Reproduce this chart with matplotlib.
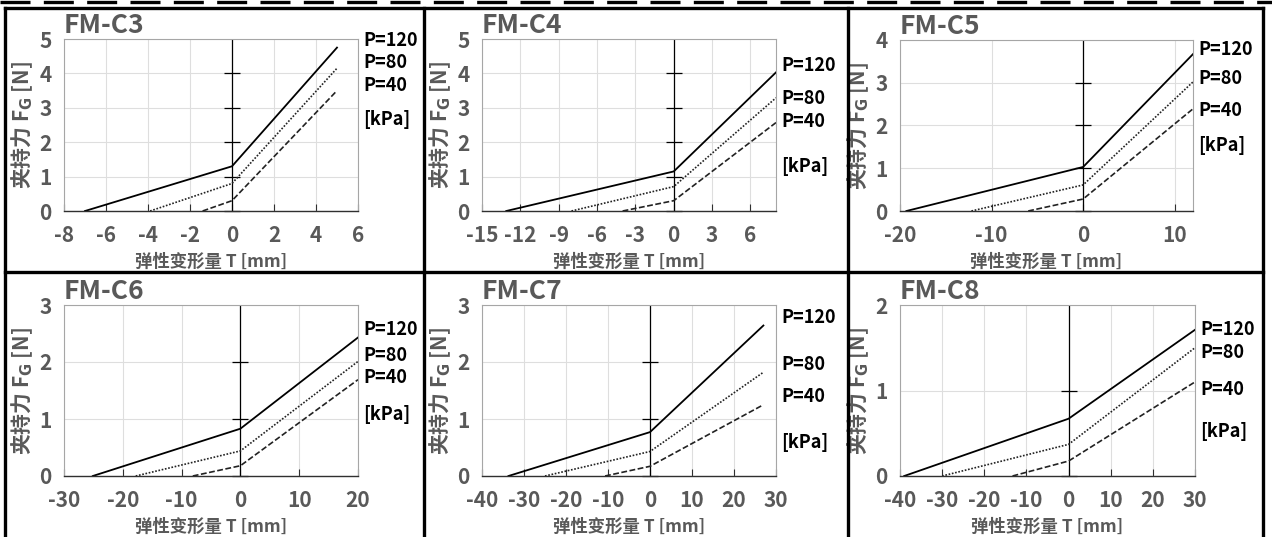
import matplotlib
matplotlib.use("Agg")
import matplotlib.pyplot as plt
from matplotlib.lines import Line2D

plt.rcParams["font.family"] = ["Noto Sans CJK SC", "DejaVu Sans"]
plt.rcParams["font.weight"] = "bold"
plt.rcParams["axes.unicode_minus"] = False

W, H = 1272, 537

titles = ["FM-C3", "FM-C4", "FM-C5", "FM-C6", "FM-C7", "FM-C8"]
pressures = ["P=120", "P=80", "P=40"]

# each curve: zero-force point, knee at T=0, end of stroke (P=120, P=80, P=40)
c3_x = [[-7.0, 0, 5], [-3.9, 0, 5], [-1.4, 0, 5]]
c3_y = [[0, 1.30, 4.75], [0, 0.80, 4.15], [0, 0.30, 3.50]]
c4_x = [[-13.1, 0, 8], [-8.0, 0, 8], [-4.0, 0, 8]]
c4_y = [[0, 1.15, 4.03], [0, 0.71, 3.29], [0, 0.30, 2.57]]
c5_x = [[-19.3, 0, 12], [-12.2, 0, 12], [-6.0, 0, 12]]
c5_y = [[0, 1.03, 3.67], [0, 0.61, 3.02], [0, 0.28, 2.39]]
c6_x = [[-25.1, 0, 20], [-17.8, 0, 20], [-8.1, 0, 20]]
c6_y = [[0, 0.83, 2.43], [0, 0.44, 2.01], [0, 0.18, 1.69]]
c7_x = [[-33.7, 0, 27], [-25.0, 0, 27], [-10.7, 0, 27]]
c7_y = [[0, 0.77, 2.64], [0, 0.43, 1.82], [0, 0.17, 1.25]]
c8_x = [[-39.0, 0, 30], [-30.0, 0, 30], [-13.3, 0, 30]]
c8_y = [[0, 0.67, 1.71], [0, 0.37, 1.50], [0, 0.175, 1.10]]

x_ticks = [
    [-8, -6, -4, -2, 0, 2, 4, 6],
    [-15, -12, -9, -6, -3, 0, 3, 6],
    [-20, -10, 0, 10],
    [-30, -20, -10, 0, 10, 20],
    [-40, -30, -20, -10, 0, 10, 20, 30],
    [-40, -30, -20, -10, 0, 10, 20, 30],
]
x_lims = [(-8, 6), (-15, 8), (-20, 12), (-30, 20), (-40, 30), (-40, 30)]
y_max = [5, 5, 4, 3, 3, 2]

# label heights (data units) for P=120, P=80, P=40, [kPa]
label_y = [
    [4.97, 4.31, 3.65, 2.67],
    [4.24, 3.28, 2.60, 1.29],
    [3.78, 3.09, 2.35, 1.53],
    [2.57, 2.11, 1.73, 1.08],
    [2.78, 1.95, 1.40, 0.58],
    [1.71, 1.45, 1.01, 0.52],
]

all_x = [c3_x, c4_x, c5_x, c6_x, c7_x, c8_x]
all_y = [c3_y, c4_y, c5_y, c6_y, c7_y, c8_y]

styles = [
    dict(color="black", lw=1.3, ls="-"),
    dict(color="#222222", lw=1.2, ls=(0, (1, 1))),
    dict(color="#222222", lw=1.2, ls=(0, (3.5, 1.5))),
]
grey = "#595959"

# axes boxes in pixels: left, top, right, bottom
boxes = [
    (64, 39, 358, 211), (482, 39, 776, 211), (900, 40, 1193, 211),
    (64, 305, 358, 476), (482, 305, 776, 476), (900, 305, 1195, 476),
]

fig = plt.figure(figsize=(W / 100, H / 100), dpi=100)

for i in range(6):
    l, t, r, b = boxes[i]
    ax = fig.add_axes([l / W, 1 - b / H, (r - l) / W, (b - t) / H])
    ax.set_xlim(*x_lims[i])
    ax.set_ylim(0, y_max[i])
    ax.set_xticks(x_ticks[i])
    ax.set_yticks(range(0, y_max[i] + 1))
    ax.grid(True, color="#dedede", lw=0.8)
    ax.set_axisbelow(True)
    for s in ["left", "right", "top"]:
        ax.spines[s].set_color("#a6a6a6")
        ax.spines[s].set_linewidth(0.8)
    ax.spines["bottom"].set_color("#303030")
    ax.spines["bottom"].set_linewidth(1.0)
    ax.tick_params(axis="x", direction="in", length=5, width=0.8, color="#303030",
                   pad=10, labelsize=15, labelcolor=grey)
    ax.tick_params(axis="y", length=0, pad=9, labelsize=15, labelcolor=grey)

    # vertical axis crossing at T=0 with its own tick marks
    ax.axvline(0, color="black", lw=0.9)
    ax.plot([0] * y_max[i], list(range(y_max[i])), ls="none", marker="_",
            ms=11.5, mew=0.9, color="black", clip_on=False)

    for k in range(3):
        ax.plot(all_x[i][k], all_y[i][k], **styles[k])

    texts = pressures + ["[kPa]"]
    for k in range(4):
        ax.annotate(texts[k], xy=(1, label_y[i][k]),
                    xycoords=("axes fraction", "data"),
                    xytext=(4, 0), textcoords="offset points",
                    ha="left", va="center", fontsize=13, fontweight="bold",
                    color="black", annotation_clip=False)

    ax.text(0.0, 1.035, titles[i], transform=ax.transAxes, ha="left",
            va="baseline", fontsize=19, fontweight="bold", color=grey)
    ax.set_xlabel("弹性变形量 T [mm]", fontsize=12.5, fontweight="bold",
                  color=grey, labelpad=5)
    ax.set_ylabel(r"夹持力 F$_{\mathbf{G}}$ [N]", fontsize=15,
                  fontweight="bold", color=grey, labelpad=3)

# table cell borders
def px_line(x0, y0, x1, y1, **kw):
    fig.add_artist(Line2D([x0 / W, x1 / W], [1 - y0 / H, 1 - y1 / H],
                          transform=fig.transFigure, color="black", **kw))


for x in [5, 424, 848, 1263]:
    px_line(x, 8, x, H, lw=2.4)
for y in [8, 272]:
    px_line(5, y, 1263, y, lw=2.4)
px_line(0, 1.5, W, 1.5, lw=2.4, ls=(0, (9, 4)))

fig.savefig("out.png", dpi=100)
